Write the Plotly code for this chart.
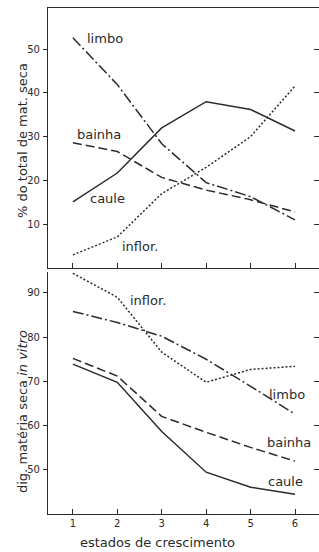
import plotly.graph_objects as go

estados = [1, 2, 3, 4, 5, 6]

# Top panel: % do total de mat. seca
top_limbo = [52.6, 41.9, 28.4, 19.5, 16.3, 11.0]
top_bainha = [28.6, 26.6, 20.7, 17.8, 15.6, 12.8]
top_caule = [15.1, 21.7, 32.0, 38.0, 36.2, 31.3]
top_inflor = [3.0, 7.1, 17.0, 23.0, 30.0, 41.6]

# Bottom panel: dig. matéria seca in vitro
bot_inflor = [94.4, 89.0, 76.6, 69.8, 72.7, 73.4]
bot_limbo = [85.8, 83.3, 80.2, 75.0, 68.9, 62.6]
bot_bainha = [75.2, 71.2, 62.1, 58.5, 55.1, 52.0]
bot_caule = [73.9, 69.8, 58.7, 49.5, 46.1, 44.5]

top_ticks = [10, 20, 30, 40, 50]
bot_ticks = [50, 60, 70, 80, 90]

W, H = 319, 552
INK = "#2b2b2b"
FONT = "DejaVu Sans"

styles = {
    "caule": dict(dash="solid"),
    "bainha": dict(dash="9px,4px"),
    "limbo": dict(dash="11px,3px,2px,3px"),
    "inflor": dict(dash="2px,2px"),
}

fig = go.Figure()

def add(y, name, xa, ya):
    fig.add_trace(go.Scatter(
        x=estados, y=y, mode="lines", name=name, xaxis=xa, yaxis=ya,
        line=dict(color=INK, width=1.5, dash=styles[name]["dash"]),
        showlegend=False, hoverinfo="skip", cliponaxis=False))

add(top_limbo, "limbo", "x", "y")
add(top_bainha, "bainha", "x", "y")
add(top_caule, "caule", "x", "y")
add(top_inflor, "inflor", "x", "y")
add(bot_inflor, "inflor", "x2", "y2")
add(bot_limbo, "limbo", "x2", "y2")
add(bot_bainha, "bainha", "x2", "y2")
add(bot_caule, "caule", "x2", "y2")

# invisible traces for right-side tick axes
fig.add_trace(go.Scatter(x=[estados[0]], y=[top_ticks[0]], xaxis="x", yaxis="y3",
                         mode="markers", marker=dict(opacity=0), showlegend=False, hoverinfo="skip"))
fig.add_trace(go.Scatter(x=[estados[0]], y=[bot_ticks[0]], xaxis="x2", yaxis="y4",
                         mode="markers", marker=dict(opacity=0), showlegend=False, hoverinfo="skip"))

xr = [0.44, 6.54]
xdom = [48 / W, 1.0]
top_dom = [1 - 268 / H, 1 - 8 / H]
bot_dom = [1 - 514 / H, 1 - 272 / H]
top_range = [0, 59.4]
bot_range = [40.06, 94.7]

tickfont = dict(family=FONT, size=10, color=INK)

fig.update_layout(
    width=W, height=H,
    margin=dict(l=0, r=0, t=0, b=0),
    paper_bgcolor="white", plot_bgcolor="white",
    xaxis=dict(domain=xdom, range=xr, anchor="y", tickvals=estados, showticklabels=False,
               ticks="inside", ticklen=5, tickcolor=INK, showline=True, linecolor=INK,
               linewidth=1.2, mirror=True, showgrid=False, zeroline=False),
    yaxis=dict(domain=top_dom, range=top_range, anchor="x", tickvals=top_ticks,
               ticks="outside", ticklen=4, tickcolor=INK, showline=True, linecolor=INK,
               linewidth=1.2, showgrid=False, zeroline=False, tickfont=tickfont,
               ticklabelstandoff=1),
    yaxis3=dict(overlaying="y", side="right", anchor="x", range=top_range, tickvals=top_ticks,
                ticks="inside", ticklen=5, tickcolor=INK, showticklabels=False,
                showline=False, showgrid=False, zeroline=False),
    xaxis2=dict(domain=xdom, range=xr, anchor="y2", tickvals=estados,
                ticktext=[str(e) for e in estados],
                ticks="inside", ticklen=5, tickcolor=INK, showline=True, linecolor=INK,
                linewidth=1.2, showgrid=False, zeroline=False, tickfont=tickfont),
    yaxis2=dict(domain=bot_dom, range=bot_range, anchor="x2", tickvals=bot_ticks,
                ticks="outside", ticklen=4, tickcolor=INK, showline=True, linecolor=INK,
                linewidth=1.2, showgrid=False, zeroline=False, tickfont=tickfont,
                ticklabelstandoff=1),
    yaxis4=dict(overlaying="y2", side="right", anchor="x2", range=bot_range, tickvals=bot_ticks,
                ticks="inside", ticklen=5, tickcolor=INK, showticklabels=False,
                showline=False, showgrid=False, zeroline=False),
)

lab = dict(family=FONT, size=13, color=INK)

def label(text, x, y, xref, yref):
    fig.add_annotation(text=text, x=x, y=y, xref=xref, yref=yref, xanchor="left",
                       yanchor="middle", showarrow=False, font=lab)

label("limbo", 1.27, 52.5, "x", "y")
label("bainha", 1.05, 30.4, "x", "y")
label("caule", 1.34, 15.8, "x", "y")
label("inflor.", 2.06, 4.8, "x", "y")
label("inflor.", 2.24, 88.2, "x2", "y2")
label("limbo", 5.37, 66.95, "x2", "y2")
label("bainha", 5.32, 56.3, "x2", "y2")
label("caule", 5.35, 47.3, "x2", "y2")

fig.add_annotation(text="% do total de mat. seca", x=22 / W, y=1 - 141 / H, xref="paper",
                   yref="paper", textangle=-90, showarrow=False, font=lab,
                   xanchor="center", yanchor="middle")
fig.add_annotation(text="dig. matéria seca <i>in vitro</i>", x=22 / W, y=1 - 412 / H,
                   xref="paper", yref="paper", textangle=-90, showarrow=False, font=lab,
                   xanchor="center", yanchor="middle")
fig.add_annotation(text="estados de crescimento", x=157 / W, y=1 - 542 / H, xref="paper",
                   yref="paper", showarrow=False, font=lab, xanchor="center", yanchor="middle")

fig.write_html("out.html", config={"displayModeBar": False},
               post_script="document.body.style.margin='0';document.body.style.padding='0';"
                           "document.body.style.overflow='hidden';")
